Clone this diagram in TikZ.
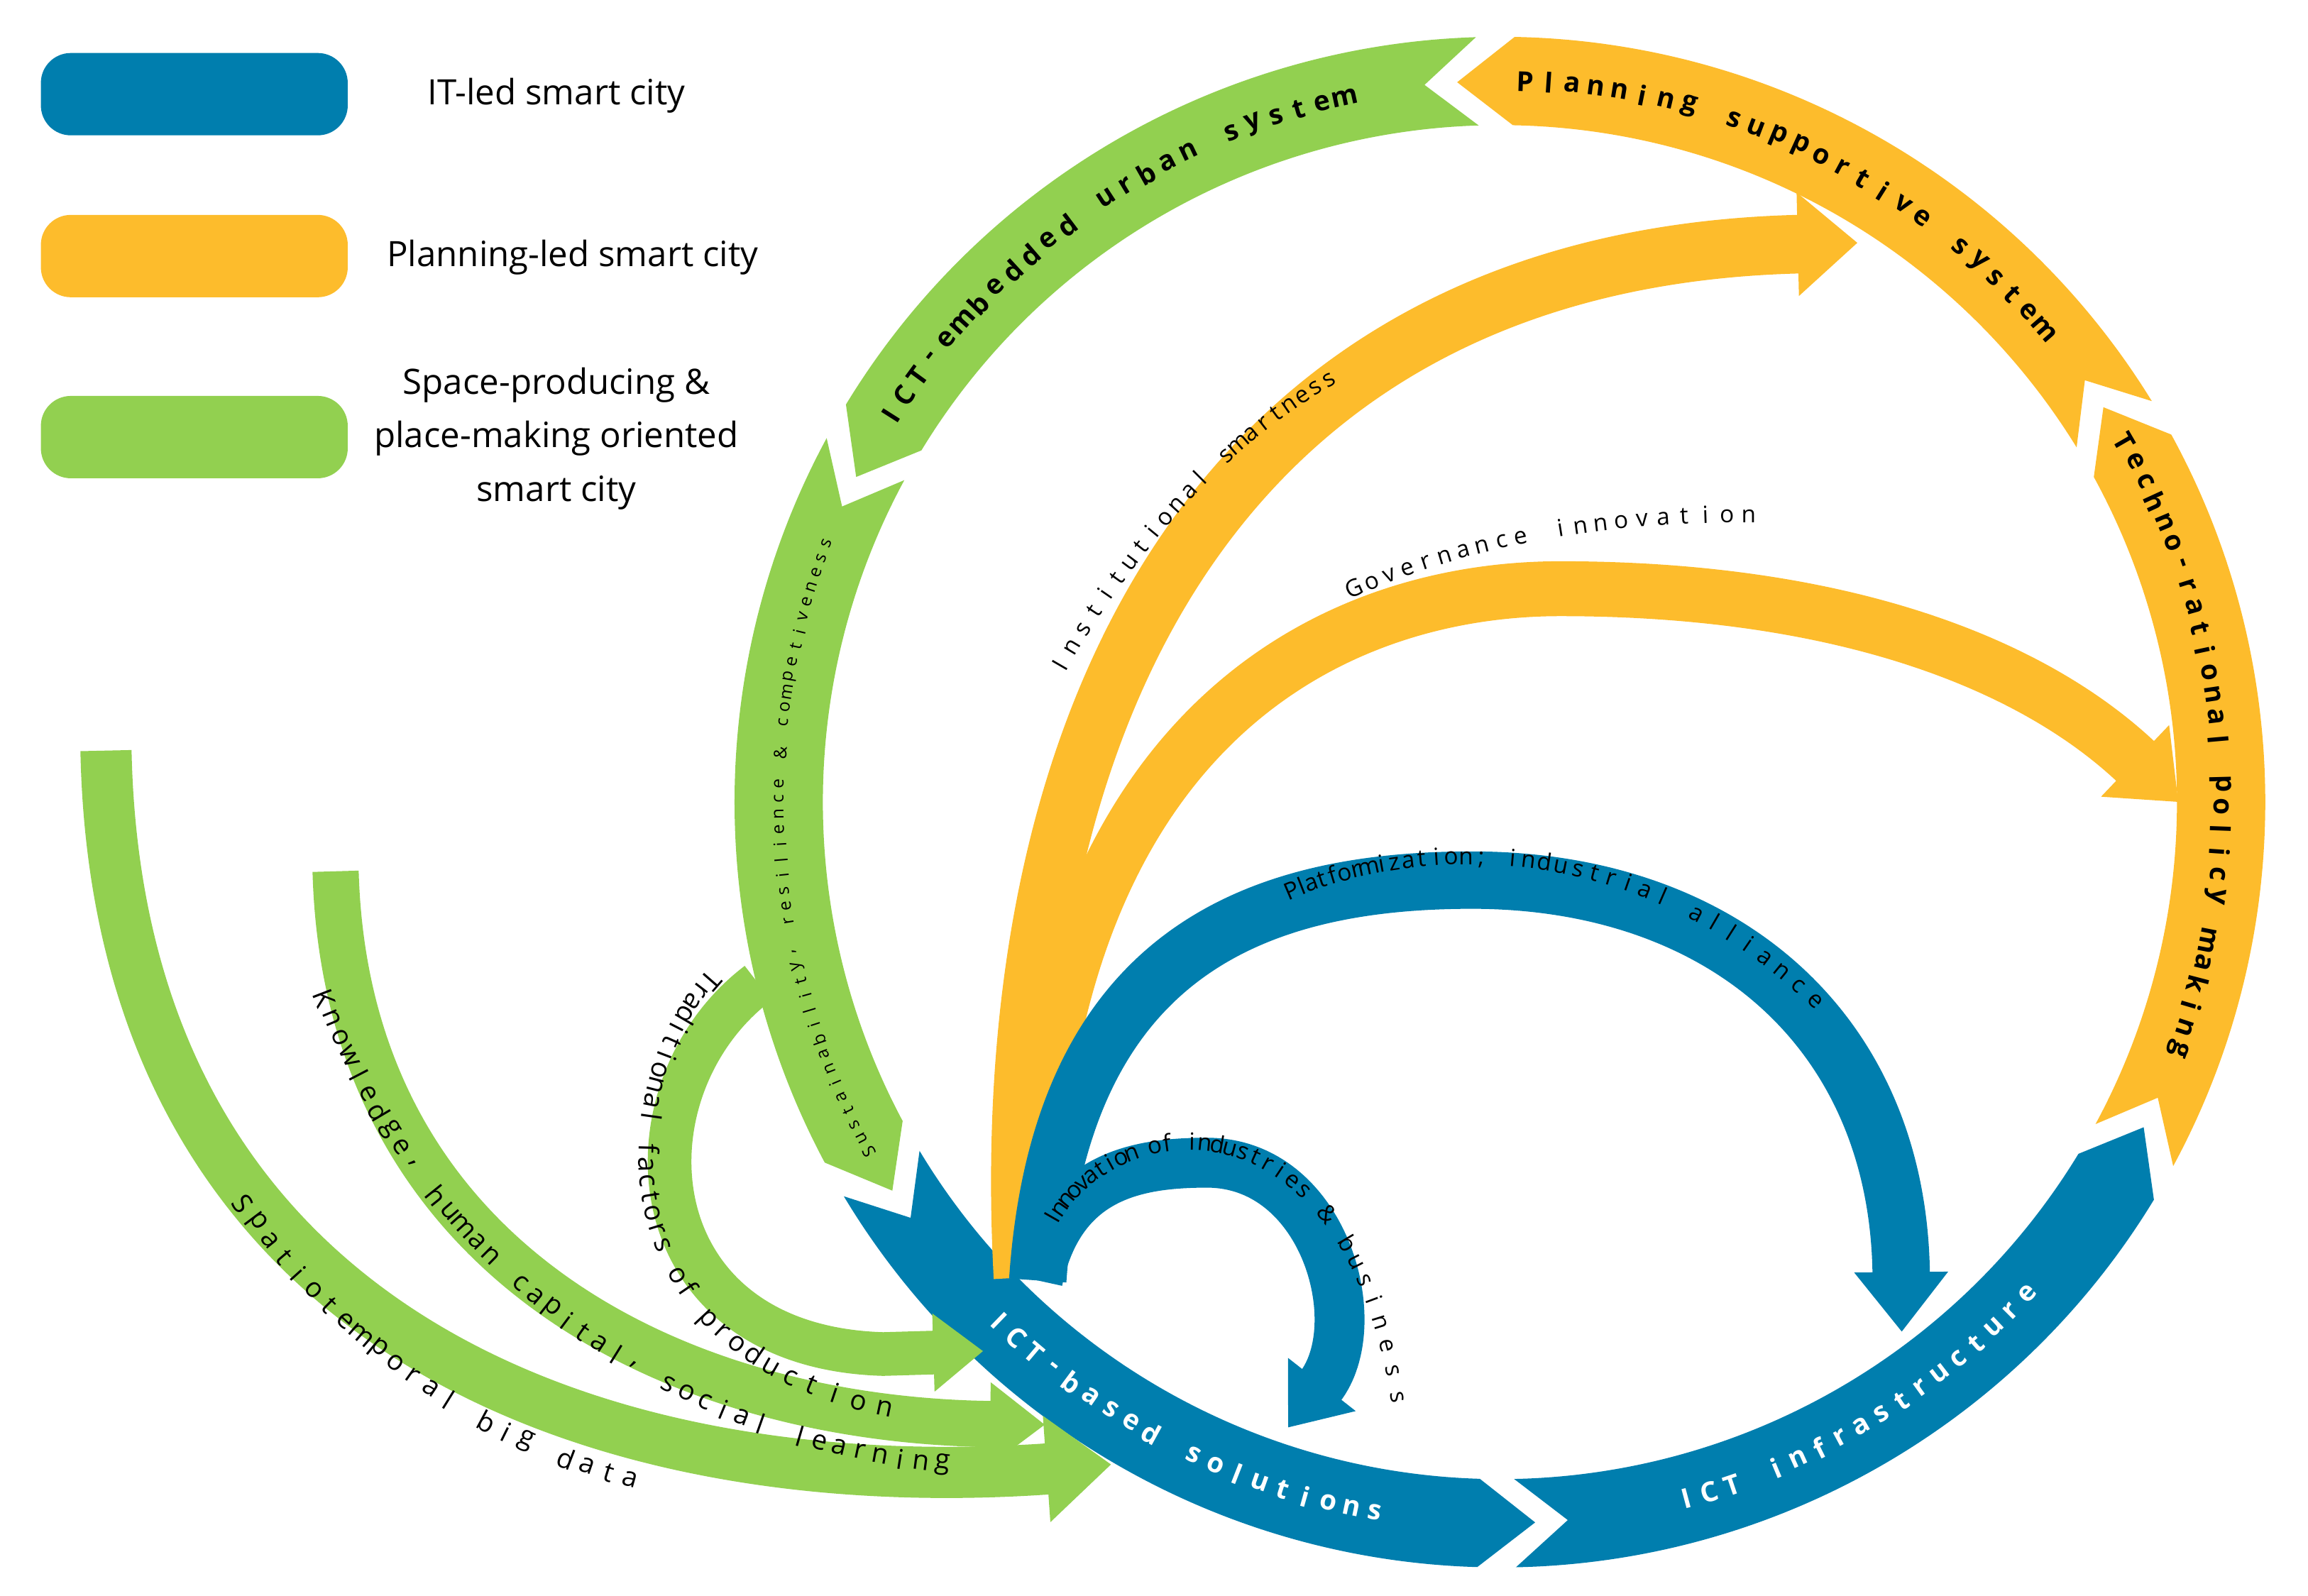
\documentclass[tikz,border=0pt]{standalone}
\usepackage{fontspec}
\setmainfont{Open Sans}
\usetikzlibrary{arrows.meta,calc}
\definecolor{cblue}{RGB}{0,126,174}
\definecolor{corange}{RGB}{253,188,44}
\definecolor{cgreen}{RGB}{146,208,80}
\newcommand\ringseg[3]{%
 \pgfmathsetmacro\myta{#2-1.6}\pgfmathsetmacro\mytn{#2+2.6}\pgfmathsetmacro\myhb{#3-4.5}%
 \fill[#1] ($(C)+(\myta:520)$) arc[start angle=\myta,end angle=\myhb,radius=520]
   -- ($(C)+(#3:490)$) -- ($(C)+(\myhb:460)$)
   arc[start angle=\myhb,end angle=\myta,radius=460] -- ($(C)+(\mytn:490)$) -- cycle;}
\newcommand\arctext[6]{% style, start, end, rot offset, radius, list
 \foreach \c [count=\n] in {#6}{\xdef\mynch{\n}}%
 \foreach \c [count=\i from 0] in {#6}{%
  \pgfmathsetmacro\myang{#2+\i*(#3-#2)/(\mynch-1)}%
  \node[#1,rotate=\myang+#4,inner sep=0pt] at ($(C)+(\myang:#5)$) {\c};}}
\newcommand\curvetext[3]{% style, list, path
 \foreach \c [count=\n] in {#2}{\xdef\mynch{\n}}%
 \foreach \c [count=\i from 0] in {#2}{%
  \pgfmathsetmacro\mypp{\i/(\mynch-1)}%
  \path #3 node[#1,pos=\mypp,sloped,allow upside down,inner sep=0pt]{\c};}}
\begin{document}
\begin{tikzpicture}[x=0.02074cm,y=0.02074cm,
  legbox/.style={rounded corners=12pt,minimum width=123pt,minimum height=33pt,inner sep=0pt},
  legtxt/.style={font=\fontsize{14}{21.5}\selectfont,align=center},
  arr/.style={line cap=butt},
  rl/.style={font=\bfseries\fontsize{11}{13}\selectfont},
  il/.style={font=\fontsize{9.5}{11}\selectfont,anchor=base},
  gl/.style={font=\fontsize{11}{13}\selectfont}]
\useasboundingbox (0,0) rectangle (1568,1084);
\coordinate (C) at (1019,539);
% legend
\node[legbox,fill=cblue] (lb) at (132,1020) {};
\node[legbox,fill=corange] (lo) at (132,910) {};
\node[legbox,fill=cgreen] (lg) at (132,787) {};
\node[legtxt] (tb) at (378,1019) {IT-led smart city};
\node[legtxt] (to) at (389,909) {Planning-led smart city};
\node[legtxt] (tg) at (378,786) {Space-producing \&\\place-making oriented\\smart city};
% ring
\ringseg{cgreen}{153.2}{212.6}
\ringseg{cblue}{212.6}{272.8}
\ringseg{cblue}{272.8}{333.2}
\ringseg{corange}{333.2}{393.2}
\ringseg{corange}{33.2}{93.4}
\ringseg{cgreen}{93.4}{153.2}
% inner arrows
\draw[arr,corange,line width=23.5pt,-{Triangle[width=40pt,length=24pt]}]
  (695,216) .. controls (675,584) and (820,909) .. (1262,919);
\draw[arr,corange,line width=22pt,-{Triangle[width=38pt,length=24pt]}]
  (700,216) .. controls (700,584) and (900,684) .. (1060,684) .. controls (1250,684) and (1380,634) .. (1480,539);
\draw[arr,cblue,line width=23pt,-{Triangle[width=36pt,length=24pt]}]
  (705,214) .. controls (720,434) and (850,486) .. (1000,486) .. controls (1170,486) and (1290,384) .. (1292,179);
\draw[arr,cblue,line width=20pt,-{Triangle[width=33pt,length=22pt]}]
  (705,214) .. controls (720,284) and (770,294) .. (820,294) .. controls (900,294) and (930,184) .. (875,114);
\draw[arr,cgreen,line width=17.5pt,-{Triangle[width=30pt,length=20pt]}]
  (515,416) .. controls (420,344) and (430,169) .. (600,164) -- (668,166);
\draw[arr,cgreen,line width=18.5pt,-{Triangle[width=32pt,length=22pt]}]
  (228,492) .. controls (235,234) and (450,119) .. (710,116);
\draw[arr,cgreen,line width=20.5pt,-{Triangle[width=41pt,length=26pt]}]
  (72,574) .. controls (80,184) and (400,64) .. (755,89);
% ring labels
\arctext{rl,text=white}{226}{260}{90}{490}{I,C,T,-,b,a,s,e,d,{~},s,o,l,u,t,i,o,n,s}
\arctext{rl,text=white}{285}{317}{90}{490}{I,C,T,{~},i,n,f,r,a,s,t,r,u,c,t,u,r,e}
\arctext{rl}{30}{-20}{-90}{490}{T,e,c,h,n,o,-,r,a,t,i,o,n,a,l,{~},p,o,l,i,c,y,{~},m,a,k,i,n,g}
\arctext{rl}{88}{41}{-90}{490}{P,l,a,n,n,i,n,g,{~},s,u,p,p,o,r,t,i,v,e,{~},s,y,s,t,e,m}
\arctext{rl}{147.6}{102.4}{-90}{490}{I,C,T,-,e,m,b,e,d,d,e,d,{~},u,r,b,a,n,{~},s,y,s,t,e,m}
\arctext{font=\fontsize{7}{9}\selectfont}{209}{159}{-90}{490}{S,u,s,t,a,i,n,a,b,i,l,i,t,y,{,},{~},r,e,s,i,l,i,e,n,c,e,{~},\&,{~},c,o,m,p,e,t,i,v,e,n,e,s,s}
% inner labels
\curvetext{il}{I,n,s,t,i,t,u,t,i,o,n,a,l,{~},s,m,a,r,t,n,e,s,s}{(725,629) .. controls (780,724) and (840,784) .. (905,822)}
\curvetext{il}{G,o,v,e,r,n,a,n,c,e,{~},i,n,n,o,v,a,t,i,o,n}{(922,679) .. controls (1000,714) and (1090,729) .. (1188,729)}
\curvetext{il}{P,l,a,t,f,o,r,m,i,z,a,t,i,o,n,{;},{~},i,n,d,u,s,t,r,i,a,l,{~},a,l,l,i,a,n,c,e}{(880,474) .. controls (950,504) and (1100,524) .. (1230,401)}
\curvetext{il}{I,n,n,o,v,a,t,i,o,n,{~},o,f,{~},i,n,d,u,s,t,r,i,e,s,{~},\&,{~},b,u,s,i,n,e,s,s}{(720,254) .. controls (760,324) and (910,344) .. (945,134)}
\curvetext{gl,anchor=base}{T,r,a,d,i,t,i,o,n,a,l,{~},f,a,c,t,o,r,s,{~},o,f,{~},p,r,o,d,u,c,t,i,o,n}{(478,422) .. controls (410,344) and (400,164) .. (600,122)}
\curvetext{gl}{K,n,o,w,l,e,d,g,e,{,},{~},h,u,m,a,n,{~},c,a,p,i,t,a,l,{,},{~},s,o,c,i,a,l,{~},l,e,a,r,n,i,n,g}{(220,406) .. controls (290,224) and (450,109) .. (640,89)}
\curvetext{gl}{S,p,a,t,i,o,t,e,m,p,o,r,a,l,{~},b,i,g,{~},d,a,t,a}{(165,266) .. controls (230,174) and (320,109) .. (428,79)}
\end{tikzpicture}
\end{document}
